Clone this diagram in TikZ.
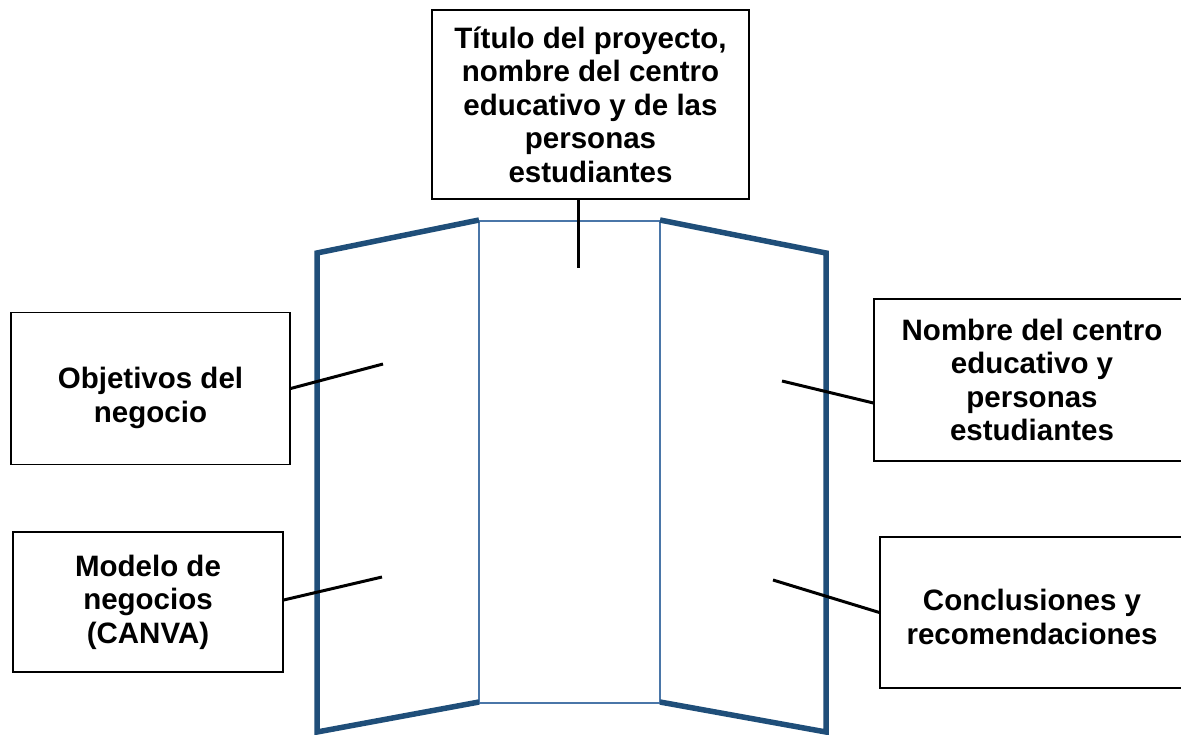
\documentclass[tikz,border=0pt]{standalone}
\usepackage{fontspec}
\setmainfont{Liberation Sans}
\definecolor{boardDark}{HTML}{1F4E79}
\definecolor{boardLight}{HTML}{4A76A8}
\begin{document}
\begin{tikzpicture}[x=1pt,y=-1pt,
  labelbox/.style={draw=black, line width=1.2pt, fill=white, align=center,
    font=\fontsize{29.5}{33.5}\selectfont\bfseries, inner sep=0pt},
  panelthick/.style={draw=boardDark, line width=5.5pt, line join=miter},
  panelthin/.style={draw=boardLight, line width=2.6pt},
  conn/.style={draw=black, line width=3pt}]
\useasboundingbox (0,0) rectangle (1181,734);
% board
\draw[panelthin] (479,221) -- (660,221);
\draw[panelthin] (479,221) -- (479,703) -- (660,703) -- (660,221);
\draw[panelthick] (479,220) -- (317,253) -- (317,732) -- (479,702);
\draw[panelthick] (660,220) -- (826,253) -- (826,732) -- (660,702);
% boxes
\node[labelbox, minimum width=317pt, minimum height=189pt] (t) at (590.5,104.5)
  {Título del proyecto,\\nombre del centro\\educativo y de las\\personas\\estudiantes};
\node[labelbox, minimum width=279pt, minimum height=152pt] (l1) at (150.5,388.5)
  {\rule{0pt}{40pt}Objetivos del\\negocio};
\node[labelbox, minimum width=270pt, minimum height=140pt] (l2) at (148,602)
  {Modelo de\\negocios\\(CANVA)};
\node[labelbox, minimum width=316pt, minimum height=162pt] (r1) at (1032,380)
  {Nombre del centro\\educativo y\\personas\\estudiantes};
\node[labelbox, minimum width=304pt, minimum height=151pt] (r2) at (1032,612.5)
  {\rule{0pt}{30pt}Conclusiones y\\recomendaciones};
% connector ends
\coordinate (tc) at (578,268);
\coordinate (l1c) at (383,364);
\coordinate (l2c) at (382,577);
\coordinate (r1c) at (782,381);
\coordinate (r2c) at (773,580);
\draw[conn] (t.south -| tc) -- (tc);
\draw[conn] (l1.east) -- (l1c);
\draw[conn] ([yshift=2pt]l2.east) -- (l2c);
\draw[conn] (r1c) -- ([yshift=-23pt]r1.west);
\draw[conn] (r2c) -- (r2.west);
\end{tikzpicture}
\end{document}
